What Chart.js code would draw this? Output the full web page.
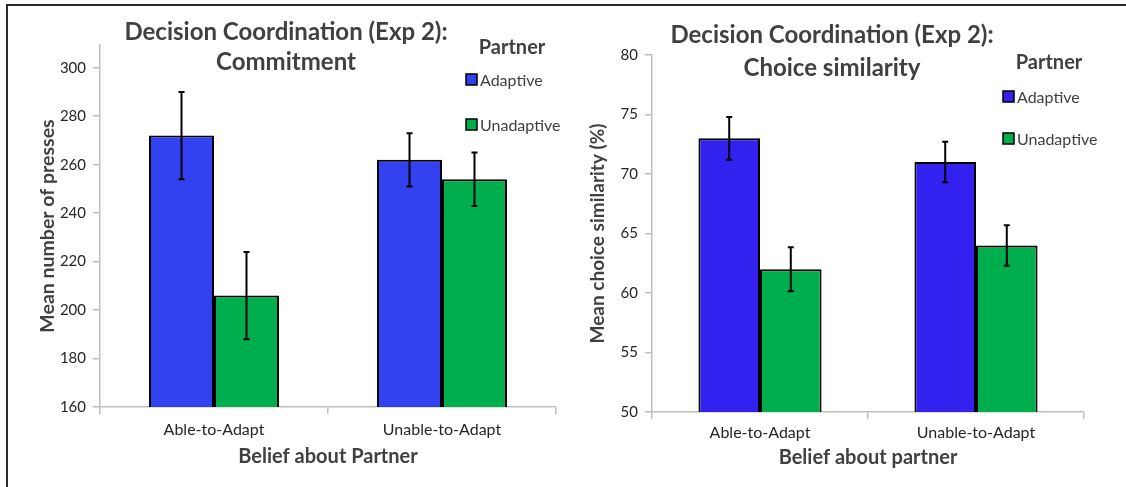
<!DOCTYPE html>
<html>
<head>
<meta charset="utf-8">
<script src="https://cdn.jsdelivr.net/npm/chart.js@4.4.0/dist/chart.umd.min.js"></script>
<style>
  html, body { margin: 0; padding: 0; background: #fff; }
  body { width: 1126px; height: 487px; position: relative; overflow: hidden; }
  .frame { position: absolute; left: 6px; top: 4px; width: 1130px; height: 500px;
           border-top: 2px solid #2a2a2a; border-left: 2px solid #2a2a2a; }
  .box { position: absolute; top: 0; width: 563px; height: 487px; }
  #b1 { left: 0; }
  #b2 { left: 563px; }
</style>
</head>
<body>
<div class="frame"></div>
<div class="box" id="b1"><canvas id="c1"></canvas></div>
<div class="box" id="b2"><canvas id="c2"></canvas></div>
<script>
// ---- data ----
const categories = ['Able-to-Adapt', 'Unable-to-Adapt'];
const seriesNames = ['Adaptive', 'Unadaptive'];

const commitAdaptive = [272, 262];
const commitAdaptiveErr = [18, 11];
const commitUnadaptive = [206, 254];
const commitUnadaptiveErr = [18, 11];
const commitTicks = [160, 180, 200, 220, 240, 260, 280, 300];

const simAdaptive = [73, 71];
const simAdaptiveErr = [1.8, 1.7];
const simUnadaptive = [62, 64];
const simUnadaptiveErr = [1.85, 1.7];
const simTicks = [50, 55, 60, 65, 70, 75, 80];

const BLUE1 = '#3342F0';
const BLUE2 = '#3321F0';
const GREEN = '#00AE4E';
const FONT = 'Lato, "Open Sans", sans-serif';

const errorBars = {
  id: 'errorBars',
  afterDatasetsDraw(chart) {
    const ctx = chart.ctx;
    const y = chart.scales.y;
    chart.data.datasets.forEach((ds, i) => {
      const meta = chart.getDatasetMeta(i);
      meta.data.forEach((bar, j) => {
        const v = ds.data[j], e = ds.err[j];
        const yt = y.getPixelForValue(v + e);
        const yb = y.getPixelForValue(v - e);
        ctx.save();
        ctx.strokeStyle = '#000';
        ctx.lineWidth = 2;
        ctx.beginPath();
        ctx.moveTo(bar.x, yt); ctx.lineTo(bar.x, yb);
        ctx.moveTo(bar.x - 3, yt); ctx.lineTo(bar.x + 3, yt);
        ctx.moveTo(bar.x - 3, yb); ctx.lineTo(bar.x + 3, yb);
        ctx.stroke();
        ctx.restore();
      });
    });
  }
};

const decor = {
  id: 'decor',
  afterDraw(chart, args, opts) {
    const ctx = chart.ctx;
    ctx.save();
    ctx.textAlign = 'center';
    ctx.textBaseline = 'middle';
    ctx.fillStyle = '#404040';
    ctx.font = 'bold 24px ' + FONT;
    opts.title.forEach((t, k) => ctx.fillText(t, opts.titleX, opts.titleY[k]));
    // legend
    ctx.font = 'bold 20px ' + FONT;
    ctx.fillText('Partner', opts.legX, opts.legTitleY);
    ctx.textAlign = 'left';
    ctx.font = '16px ' + FONT;
    chart.data.datasets.forEach((ds, i) => {
      const yy = opts.legY[i];
      ctx.fillStyle = ds.backgroundColor;
      ctx.fillRect(opts.boxX, yy - 6, 11, 11);
      ctx.strokeStyle = '#000';
      ctx.lineWidth = 1.5;
      ctx.strokeRect(opts.boxX, yy - 6, 11, 11);
      ctx.fillStyle = '#404040';
      ctx.fillText(ds.label, opts.boxX + 14, yy + 1);
    });
    ctx.restore();
  }
};

function makeChart(id, cfg) {
  const ticksArr = cfg.ticks;
  return new Chart(document.getElementById(id), {
    type: 'bar',
    data: {
      labels: categories,
      datasets: [
        { label: seriesNames[0], data: cfg.a, err: cfg.aErr, backgroundColor: cfg.blue,
          borderColor: '#000', borderWidth: 2, borderSkipped: false },
        { label: seriesNames[1], data: cfg.u, err: cfg.uErr, backgroundColor: GREEN,
          borderColor: '#000', borderWidth: 2, borderSkipped: false }
      ]
    },
    plugins: [errorBars, decor],
    options: {
      responsive: true,
      maintainAspectRatio: false,
      animation: false,
      datasets: { bar: { categoryPercentage: 0.57, barPercentage: 1.0 } },
      layout: { padding: { top: cfg.top, right: cfg.right, left: 0, bottom: 0 } },
      plugins: {
        legend: { display: false },
        tooltip: { enabled: false },
        title: { display: false },
        decor: cfg.decor
      },
      scales: {
        x: {
          grid: { drawOnChartArea: false, color: '#BFBFBF', lineWidth: 1.5, tickLength: 7, offset: true },
          border: { color: '#BFBFBF', width: 1.5 },
          ticks: { color: '#262626', font: { family: FONT, size: 16 }, padding: cfg.xTickPad, maxRotation: 0 },
          title: { display: true, text: cfg.xTitle, color: '#404040',
                   font: { family: FONT, size: 20, weight: 'bold' }, padding: { top: 0, bottom: cfg.xTitlePad } },
          afterFit(s) { s.height = cfg.xHeight; }
        },
        y: {
          min: cfg.min, max: cfg.max,
          grid: { drawOnChartArea: false, color: '#BFBFBF', lineWidth: 1.5, tickLength: 7 },
          border: { color: '#BFBFBF', width: 1.5 },
          ticks: { color: '#262626', font: { family: FONT, size: 15 }, padding: 7 },
          afterBuildTicks(s) { s.ticks = ticksArr.map(v => ({ value: v })); },
          title: { display: true, text: cfg.yTitle, color: '#404040',
                   font: { family: FONT, size: cfg.yTitleSize, weight: 'bold' }, padding: { top: cfg.yTitlePad, bottom: 0 } },
          afterFit(s) { s.width = cfg.yWidth; }
        }
      }
    }
  });
}

makeChart('c1', {
  a: commitAdaptive, aErr: commitAdaptiveErr, u: commitUnadaptive, uErr: commitUnadaptiveErr,
  blue: BLUE1, ticks: commitTicks, min: 160, max: 309.4,
  top: 45, right: 7, yWidth: 100, xHeight: 80, xTickPad: 6, xTitlePad: 18,
  xTitle: 'Belief about Partner', yTitle: 'Mean number of presses', yTitleSize: 19.5, yTitlePad: 36,
  decor: { title: ['Decision Coordination (Exp 2):', 'Commitment'], titleX: 286, titleY: [32, 62],
           legX: 512, legTitleY: 48, boxX: 466, legY: [80, 125] }
});

makeChart('c2', {
  a: simAdaptive, aErr: simAdaptiveErr, u: simUnadaptive, uErr: simUnadaptiveErr,
  blue: BLUE2, ticks: simTicks, min: 50, max: 80,
  top: 55, right: 42, yWidth: 89, xHeight: 75, xTickPad: 4, xTitlePad: 17,
  xTitle: 'Belief about partner', yTitle: 'Mean choice similarity (%)', yTitleSize: 19, yTitlePad: 23,
  decor: { title: ['Decision Coordination (Exp 2):', 'Choice similarity'], titleX: 269, titleY: [35, 68],
           legX: 486, legTitleY: 63, boxX: 440, legY: [97, 139] }
});
</script>
</body>
</html>
